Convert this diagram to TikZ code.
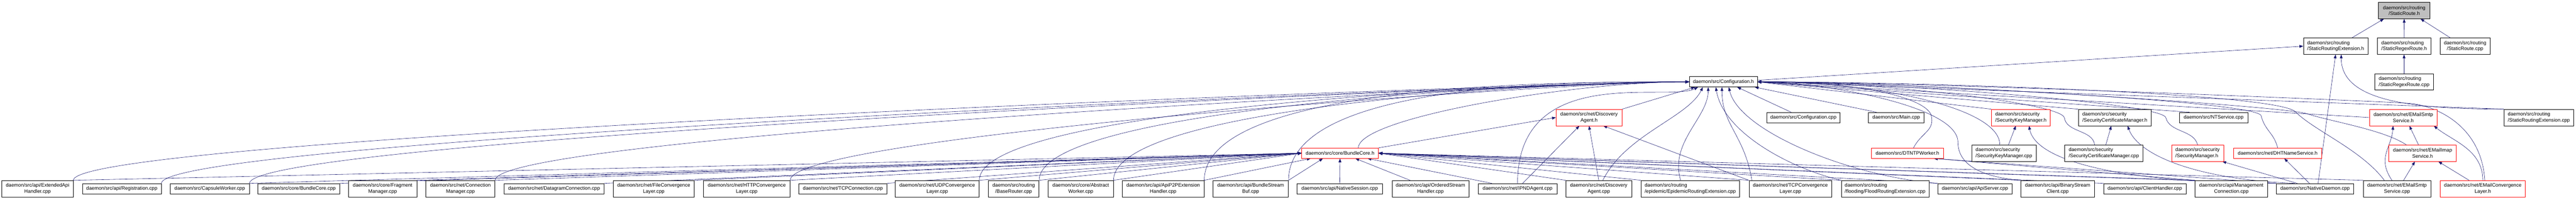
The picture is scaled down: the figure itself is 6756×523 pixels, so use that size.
\documentclass[tikz,border=0pt]{standalone}
\usepackage{fontspec}
\setmainfont{Liberation Sans}
\usetikzlibrary{arrows.meta}
\definecolor{incblue}{RGB}{25,25,112}
\definecolor{rootgray}{RGB}{191,191,191}
\pgfdeclarelayer{bg}
\pgfsetlayers{bg,main}
\tikzset{
  box/.style={draw=black, line width=0.6pt, fill=white, font=\fontsize{9.75}{11.7}\selectfont,
    inner xsep=3pt, inner ysep=1pt, minimum height=20.25pt, align=center},
  one/.style={},
  oner/.style={draw=red},
  two/.style={minimum height=32.25pt},
  twol/.style={two, align=left},
  twor/.style={two, draw=red},
  twolr/.style={twol, draw=red},
  root/.style={two, fill=rootgray},
  incl/.style={draw=incblue, line width=0.6pt, -{Triangle[length=7.5pt,width=5.5pt]}}
}
\begin{document}
\begin{tikzpicture}[x=0.75pt, y=0.75pt]
\useasboundingbox (0,0) rectangle (6756,523);

\foreach \nm/\xa/\xb/\yy/\sty/\lbl in {
  ext/5/192/28.5/two/{daemon/src/api/ExtendedApi\\Handler.cpp},
  reg/216/423/28.5/one/{daemon/src/api/Registration.cpp},
  capw/446/654/28.5/one/{daemon/src/CapsuleWorker.cpp},
  bcc/676/891/28.5/one/{daemon/src/core/BundleCore.cpp},
  frag/914/1093/28.5/two/{daemon/src/core/Fragment\\Manager.cpp},
  conm/1117/1298/28.5/two/{daemon/src/net/Connection\\Manager.cpp},
  dgc/1322/1584/28.5/one/{daemon/src/net/DatagramConnection.cpp},
  filecl/1608/1821/28.5/two/{daemon/src/net/FileConvergence\\Layer.cpp},
  httpcl/1845/2072/28.5/two/{daemon/src/net/HTTPConvergence\\Layer.cpp},
  tcpc/2095/2326/28.5/one/{daemon/src/net/TCPConnection.cpp},
  udpcl/2348/2568/28.5/two/{daemon/src/net/UDPConvergence\\Layer.cpp},
  basert/2592/2725/28.5/two/{daemon/src/routing\\/BaseRouter.cpp},
  absw/2749/2920/28.5/two/{daemon/src/core/Abstract\\Worker.cpp},
  p2p/2943/3158/28.5/two/{daemon/src/api/ApiP2PExtension\\Handler.cpp},
  bsb/3181/3379/28.5/two/{daemon/src/api/BundleStream\\Buf.cpp},
  nses/3402/3625/28.5/one/{daemon/src/api/NativeSession.cpp},
  osh/3651/3852/28.5/two/{daemon/src/api/OrderedStream\\Handler.cpp},
  ipnd/3877/4083/28.5/one/{daemon/src/net/IPNDAgent.cpp},
  dac/4107/4279/28.5/two/{daemon/src/net/Discovery\\Agent.cpp},
  epid/4304/4562/28.5/twol/{daemon/src/routing\\/epidemic/EpidemicRoutingExtension.cpp},
  tcpcl/4587/4804/28.5/two/{daemon/src/net/TCPConvergence\\Layer.cpp},
  flood/4829/5059/28.5/twol/{daemon/src/routing\\/flooding/FloodRoutingExtension.cpp},
  apis/5082/5277/28.5/one/{daemon/src/api/ApiServer.cpp},
  bsc/5300/5493/28.5/two/{daemon/src/api/BinaryStream\\Client.cpp},
  clih/5517/5733/28.5/one/{daemon/src/api/ClientHandler.cpp},
  mgmt/5757/5947/28.5/two/{daemon/src/api/Management\\Connection.cpp},
  ndae/5970/6173/28.5/one/{daemon/src/NativeDaemon.cpp},
  smtpc/6198/6375/28.5/two/{daemon/src/net/EMailSmtp\\Service.cpp},
  emcl/6400/6623/28.5/twor/{daemon/src/net/EMailConvergence\\Layer.h},
  bch/3414/3615/121.5/oner/{daemon/src/core/BundleCore.h},
  dtntp/4908/5097/121.5/oner/{daemon/src/DTNTPWorker.h},
  skmc/5171/5340/121.5/twol/{daemon/src/security\\/SecurityKeyManager.cpp},
  scmc/5415/5620/121.5/twol/{daemon/src/security\\/SecurityCertificateManager.cpp},
  secm/5695/5832/121.5/twolr/{daemon/src/security\\/SecurityManager.h},
  dhtns/5858/6089/121.5/oner/{daemon/src/net/DHTNameService.h},
  imaph/6265/6442/121.5/twor/{daemon/src/net/EMailImap\\Service.h},
  dah/4081/4254/215/twor/{daemon/src/net/Discovery\\Agent.h},
  cfgc/4633/4826/215/one/{daemon/src/Configuration.cpp},
  mainc/4900/5046/215/one/{daemon/src/Main.cpp},
  skmh/5223/5377/215/twolr/{daemon/src/security\\/SecurityKeyManager.h},
  scmh/5451/5642/215/twol/{daemon/src/security\\/SecurityCertificateManager.h},
  ntsc/5716/5895/215/one/{daemon/src/NTService.cpp},
  smtph/6214/6392/215/twor/{daemon/src/net/EMailSmtp\\Service.h},
  srec/6567/6750/215/twol/{daemon/src/routing\\/StaticRoutingExtension.cpp},
  cfg/4431/4609/308.5/one/{daemon/src/Configuration.h},
  sregc/6228/6382/308.5/twol/{daemon/src/routing\\/StaticRegexRoute.cpp},
  sreh/6041/6210/402/twol/{daemon/src/routing\\/StaticRoutingExtension.h},
  sregh/6235/6375/402/twol/{daemon/src/routing\\/StaticRegexRoute.h},
  srtc/6399/6531/402/two/{daemon/src/routing\\/StaticRoute.cpp},
  srh/6238/6373/495.5/root/{daemon/src/routing\\/StaticRoute.h}}
{
  \pgfmathsetmacro\mx{(\xa+\xb)/2}
  \pgfmathsetmacro\bw{(\xb-\xa)*0.75}
  \node[box,\sty,minimum width=\bw pt] (\nm) at (\mx,\yy) {\lbl};
}

\path
  (5065,220) coordinate (wdt)
  (5414,215) coordinate (wsc)
  (5680,215) coordinate (wsm)
  (5930,220) coordinate (wdh)
  (5135,150) coordinate (wbs)
  (6320,252) coordinate (wem)
  (6020,230) coordinate (wsp)
  (6050,225) coordinate (wim)
  ;

\begin{pgfonlayer}{bg}
% BundleCore.h
\foreach \s in {ext,capw,bcc,frag,conm,dgc,filecl,httpcl,tcpc,udpcl,basert,absw}
  \draw[incl] (\s.north east) -- (bch.west);
\draw[incl] (p2p.north east) -- ([xshift=18pt]bch.south west);
\draw[incl] (bsb.north east) -- ([xshift=42pt]bch.south west);
\draw[incl] (nses) -- (bch);
\draw[incl] ([xshift=-40pt]osh.north) -- ([xshift=30pt]bch.south);
\draw[incl] ([xshift=27pt]ipnd.north west) -- ([xshift=54pt]bch.south);
\foreach \s in {dac,epid,tcpcl,flood,apis,bsc,clih,mgmt,ndae,smtpc}
  \draw[incl] (\s.north west) -- (bch.east);

% Configuration.h
\foreach \s in {ext,reg,capw,conm,httpcl}
  \draw[incl] (\s.north east) .. controls +(0,120) and +(-300,0) .. (cfg.west);
\foreach \s in {udpcl,basert,absw}
  \draw[incl] (\s.north east) .. controls +(0,200) and +(-300,0) .. (cfg.west);
\foreach \s in {p2p,bsb}
  \draw[incl] (\s.north east) .. controls +(0,260) and +(-300,0) .. (cfg.west);
\draw[incl] ([xshift=36pt]bch.north) .. controls +(0,80) and +(-300,0) .. (cfg.west);
\draw[incl] (dah.north east) -- ([xshift=11pt]cfg.south west);
\draw[incl] (ipnd.north) .. controls +(0,318) and +(-80,-40) .. ([xshift=-50pt]cfg.south);
\draw[incl] ([xshift=8pt]dac.north) .. controls +(60,120) and +(-40,-80) .. ([xshift=-40.5pt]cfg.south);
\draw[incl] ([xshift=-19pt]epid.north) .. controls +(-30,100) and +(0,-80) .. ([xshift=-30pt]cfg.south);
\draw[incl] (flood.north west) .. controls +(-130,30) and +(20,-120) .. ([xshift=-15pt]cfg.south);
\draw[incl] ([xshift=6pt]tcpcl.north west) .. controls +(-20,120) and +(0,-100) .. ([xshift=-3pt]cfg.south);
\draw[incl] (apis.north west) .. controls +(-230,18) and +(26,-115) .. ([xshift=10.5pt]cfg.south);
\draw[incl] ([xshift=-24pt]cfgc.north) -- ([xshift=27pt]cfg.south);
\draw[incl] ([xshift=-39pt]mainc.north) -- ([xshift=61.5pt]cfg.south);
\foreach \s in {skmh,scmh}
  \draw[incl] (\s.north west) -- (cfg.east);
\draw[incl] ([xshift=20pt]ntsc.north west) -- (cfg.east);
\draw[incl] (smtph.west) -- (cfg.east);
\draw[incl] (srec.north west) -- (cfg.east);
\draw[incl] ([xshift=-8pt]skmc.north) .. controls +(0,100) and +(300,0) .. (cfg.east);
\draw[incl] ([xshift=12pt]dtntp.north) .. controls +(20,40) and +(10,-40) .. (wdt) .. controls +(-10,40) and +(300,0) .. (cfg.east);
\draw[incl] ([xshift=-18pt]scmc.north) .. controls +(-5,40) and +(5,-40) .. (wsc) .. controls +(-15,40) and +(300,0) .. (cfg.east);
\draw[incl] (secm.north) .. controls +(-10,40) and +(10,-40) .. (wsm) .. controls +(-15,40) and +(300,0) .. (cfg.east);
\draw[incl] (dhtns.north) .. controls +(-10,40) and +(10,-40) .. (wdh) .. controls +(-15,40) and +(300,0) .. (cfg.east);
\draw[incl] (bsc.north west) .. controls +(-120,10) and +(0,-50) .. (wbs) .. controls +(0,100) and +(150,0) .. (cfg.east);
\draw[incl] ([xshift=-32pt]imaph.north) .. controls +(-60,40) and +(60,-20) .. (wim) .. controls +(-60,20) and +(400,0) .. (cfg.east);
\draw[incl] ([xshift=-25pt]smtpc.north) .. controls +(-60,80) and +(50,-50) .. (wsp) .. controls +(-50,50) and +(400,0) .. (cfg.east);
\draw[incl] ([xshift=4pt]emcl.north) .. controls +(-10,150) and +(60,-5) .. (wem) .. controls +(-60,5) and +(400,0) .. (cfg.east);

% DiscoveryAgent.h, security, DTNTP
\draw[incl] (bch.north east) -- (dah.west);
\draw[incl] ([xshift=10pt]ipnd.north) -- ([xshift=-19pt]dah.south);
\draw[incl] (dac.north) -- (dah.south);
\draw[incl] (tcpcl.north west) -- ([xshift=28pt]dah.south);
\draw[incl] ([xshift=9pt]skmc.north) -- ([xshift=-10pt]skmh.south);
\draw[incl] ([xshift=4pt]scmc.north) -- ([xshift=-7pt]scmh.south);
\draw[incl] (ndae.north west) .. controls +(-370,0) and +(20,-100) .. ([xshift=16pt]skmh.south);
\draw[incl] ([xshift=-40pt]ndae.north) .. controls +(-250,10) and +(30,-80) .. ([xshift=25pt]scmh.south);
\draw[incl] ([xshift=-35pt]ndae.north) -- ([xshift=-3pt]secm.south east);
\draw[incl] ([xshift=-11pt]ndae.north) -- ([xshift=13pt]dhtns.south);
\draw[incl] (ndae.north west) -- ([xshift=52pt]dtntp.south);
\draw[incl] (mgmt.north west) -- ([xshift=52pt]dtntp.south);

% e-mail
\draw[incl] ([xshift=-10pt]smtpc.north) .. controls +(-40,60) and +(-5,-60) .. ([xshift=-20pt]smtph.south);
\draw[incl] ([xshift=13pt]smtpc.north) -- ([xshift=-15pt]imaph.south);
\draw[incl] ([xshift=-8pt]imaph.north) -- ([xshift=12pt]smtph.south);
\draw[incl] ([xshift=-27pt]emcl.north) -- ([xshift=31pt]imaph.south);
\draw[incl] (emcl.north) .. controls +(0,80) and +(50,-40) .. ([xshift=60pt]smtph.south);

% static routing
\draw[incl] ([yshift=3pt]cfg.east) -- (sreh.west);
\draw[incl] ([xshift=6pt]ndae.north) -- (sreh.south);
\draw[incl] (srec.north west) .. controls +(-250,0) and +(0,-120) .. ([xshift=11pt]sreh.south);
\draw[incl] ([xshift=32pt]sreh.north) -- ([xshift=-40pt]srh.south);
\draw[incl] (sregh) -- (srh);
\draw[incl] ([xshift=-29pt]srtc.north) -- ([xshift=32pt]srh.south);
\draw[incl] (sregc) -- (sregh);
\end{pgfonlayer}
\end{tikzpicture}
\end{document}
